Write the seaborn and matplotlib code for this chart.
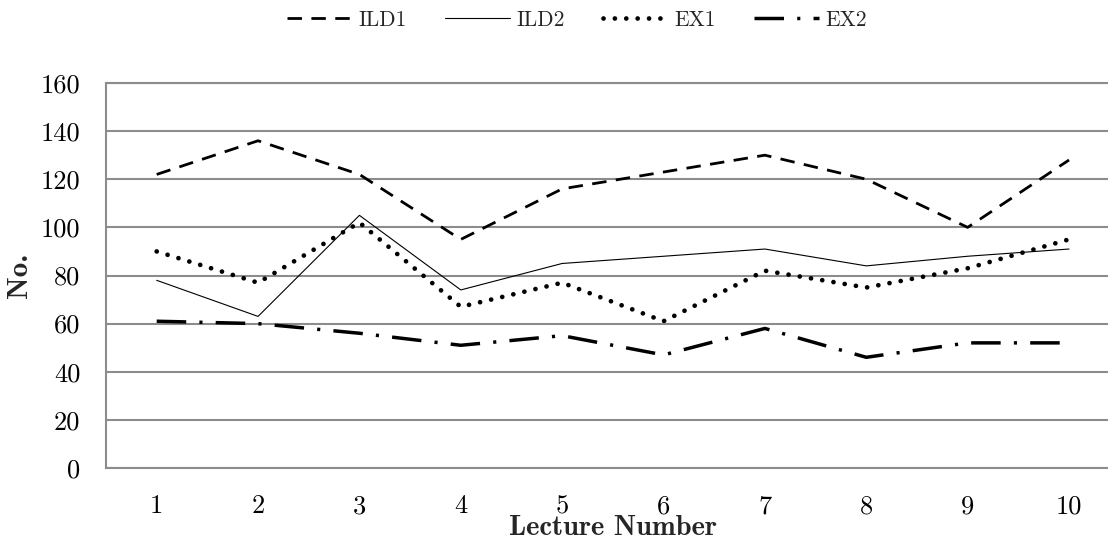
import matplotlib
matplotlib.use("Agg")
import matplotlib.pyplot as plt
import seaborn as sns
import pandas as pd

lectures = [1, 2, 3, 4, 5, 6, 7, 8, 9, 10]
ild1 = [122, 136, 122, 95, 116, 123, 130, 120, 100, 128]
ild2 = [78, 63, 105, 74, 85, 88, 91, 84, 88, 91]
ex1 = [90, 77, 102, 67, 77, 61, 82, 75, 83, 95]
ex2 = [61, 60, 56, 51, 55, 47, 58, 46, 52, 52]
series_names = ["ILD1", "ILD2", "EX1", "EX2"]
y_ticks = [0, 20, 40, 60, 80, 100, 120, 140, 160]

sns.set_style("white")
plt.rcParams["font.family"] = ["cmr10", "DejaVu Serif"]
plt.rcParams["axes.formatter.use_mathtext"] = True

W, H = 1108, 539
fig = plt.figure(figsize=(W / 100, H / 100), dpi=100)
left, right, top, bottom = 106, 1119.7, 83, 468
ax = fig.add_axes([left / W, (H - bottom) / H, (right - left) / W, (bottom - top) / H])

df = pd.DataFrame({"Lecture": lectures, "ILD1": ild1, "ILD2": ild2, "EX1": ex1, "EX2": ex2})

styles = {
    "ILD1": dict(linewidth=2.0, linestyle=(0, (5.2, 3.4)), dash_capstyle="butt"),
    "ILD2": dict(linewidth=0.8, linestyle="-"),
    "EX1": dict(linewidth=3.4, linestyle=(0, (0.01, 2.4)), dash_capstyle="round"),
    "EX2": dict(linewidth=2.5, linestyle=(0, (8.5, 3.8, 0.9, 3.8)), dash_capstyle="butt"),
}

for name in series_names:
    sns.lineplot(data=df, x="Lecture", y=name, ax=ax, color="black",
                 label=name, legend=False, **styles[name])

ax.set_xlim(0.5, 10.5)
ax.set_ylim(0, 160)
ax.set_xticks(lectures)
ax.set_xticklabels([str(v) for v in lectures])
ax.set_yticks(y_ticks)
ax.set_yticklabels([str(v) for v in y_ticks])
ax.tick_params(axis="both", length=0, labelsize=19, colors="black")
ax.tick_params(axis="y", pad=18.5)
ax.tick_params(axis="x", pad=19)
ax.yaxis.grid(True, color="#8c8c8c", linewidth=1.5)
ax.xaxis.grid(False)
ax.set_axisbelow(True)
for s in ["left", "bottom", "top"]:
    ax.spines[s].set_color("#8c8c8c")
    ax.spines[s].set_linewidth(1.5)
ax.spines["right"].set_visible(False)

ax.set_xlabel("Lecture Number", fontfamily="cmb10", fontsize=20.5)
ax.xaxis.set_label_coords(0.5, (468 - 515) / 385)
ax.xaxis.label.set_va("top")
ax.set_ylabel("No.", fontfamily="cmb10", fontsize=21)
ax.yaxis.set_label_coords((33 - 106) / 1013.7, 0.5)

handles, labels = ax.get_legend_handles_labels()
fig.legend(handles, labels, loc="center", bbox_to_anchor=(577 / W, 1 - 20 / H),
           ncol=4, frameon=False, fontsize=15.5, handlelength=3.0,
           handletextpad=0.3, columnspacing=1.8)

fig.savefig("out.png", dpi=100)
